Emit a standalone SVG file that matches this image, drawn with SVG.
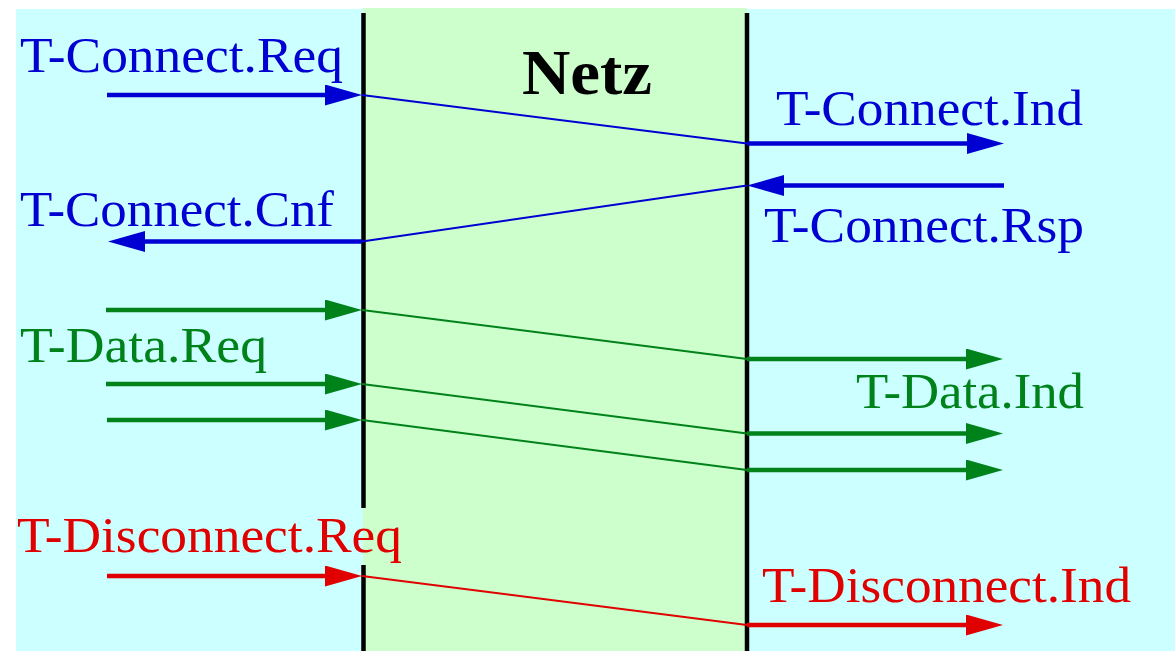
<svg xmlns="http://www.w3.org/2000/svg" width="1175" height="651" viewBox="0 0 1175 651">
  <style>
    .lbl { font-family: "Liberation Serif", "Times New Roman", serif; font-size: 51px; }
    .blue { fill: #0000d2; }
    .green { fill: #00821a; }
    .red { fill: #e00000; }
    .thick { stroke-width: 4.5; fill: none; }
    .thin { stroke-width: 2; fill: none; }
    .sb { stroke: #0000d2; }
    .sg { stroke: #00821a; }
    .sr { stroke: #e00000; }
    .wall { stroke: #000; stroke-width: 4.5; }
  </style>
  <defs>
    <marker id="headBlue" markerUnits="userSpaceOnUse" markerWidth="38" markerHeight="22" refX="7" refY="10.5" orient="auto">
      <path d="M0,0 L37,10.5 L0,21 z" fill="#0000d2"/>
    </marker>
    <marker id="headGreen" markerUnits="userSpaceOnUse" markerWidth="38" markerHeight="22" refX="7" refY="10.5" orient="auto">
      <path d="M0,0 L37,10.5 L0,21 z" fill="#00821a"/>
    </marker>
    <marker id="headRed" markerUnits="userSpaceOnUse" markerWidth="38" markerHeight="22" refX="7" refY="10.5" orient="auto">
      <path d="M0,0 L37,10.5 L0,21 z" fill="#e00000"/>
    </marker>
  </defs>

  <!-- end systems (outer) and network (middle) -->
  <rect id="endsystems" x="16" y="9" width="1159" height="642" fill="#ccffff"/>
  <g id="netz">
    <rect x="363" y="8" width="384" height="643" fill="#ccffcc"/>
    <text x="522" y="94" font-family="'Liberation Serif', 'Times New Roman', serif" font-weight="bold" font-size="63" textLength="130" lengthAdjust="spacingAndGlyphs">Netz</text>
  </g>

  <!-- service access boundaries -->
  <g id="boundaries">
    <line class="wall" x1="363.5" y1="13" x2="363.5" y2="508"/>
    <line class="wall" x1="363.5" y1="565" x2="363.5" y2="651"/>
    <line class="wall" x1="747" y1="13" x2="747" y2="651"/>
  </g>

  <g id="connectors">
    <!-- connect -->
    <line class="thick sb" x1="107" y1="95" x2="332" y2="95" marker-end="url(#headBlue)"/>
    <line class="thin sb" x1="362" y1="95" x2="747" y2="143.5"/>
    <line class="thick sb" x1="747" y1="143.5" x2="974" y2="143.5" marker-end="url(#headBlue)"/>
    <line class="thick sb" x1="1004" y1="185.5" x2="777" y2="185.5" marker-end="url(#headBlue)"/>
    <line class="thin sb" x1="747" y1="185.5" x2="362" y2="241.5"/>
    <line class="thick sb" x1="362" y1="241.5" x2="138" y2="241.5" marker-end="url(#headBlue)"/>
    <!-- data -->
    <line class="thick sg" x1="106" y1="310" x2="332" y2="310" marker-end="url(#headGreen)"/>
    <line class="thin sg" x1="362" y1="310" x2="747" y2="359"/>
    <line class="thick sg" x1="747" y1="359" x2="973" y2="359" marker-end="url(#headGreen)"/>
    <line class="thick sg" x1="106" y1="384" x2="332" y2="384" marker-end="url(#headGreen)"/>
    <line class="thin sg" x1="362" y1="384" x2="747" y2="433.5"/>
    <line class="thick sg" x1="747" y1="433.5" x2="973" y2="433.5" marker-end="url(#headGreen)"/>
    <line class="thick sg" x1="107" y1="420" x2="332" y2="420" marker-end="url(#headGreen)"/>
    <line class="thin sg" x1="362" y1="420" x2="747" y2="470"/>
    <line class="thick sg" x1="747" y1="470" x2="973" y2="470" marker-end="url(#headGreen)"/>
    <!-- disconnect -->
    <line class="thick sr" x1="107" y1="576" x2="332" y2="576" marker-end="url(#headRed)"/>
    <line class="thin sr" x1="362" y1="576" x2="747" y2="625"/>
    <line class="thick sr" x1="747" y1="625" x2="973" y2="625" marker-end="url(#headRed)"/>
  </g>

  <g id="connect-req"><text class="lbl blue" x="20" y="72" textLength="323" lengthAdjust="spacingAndGlyphs">T-Connect.Req</text></g>
  <g id="connect-ind"><text class="lbl blue" x="776" y="125" textLength="307" lengthAdjust="spacingAndGlyphs">T-Connect.Ind</text></g>
  <g id="connect-cnf"><text class="lbl blue" x="20" y="226" textLength="314" lengthAdjust="spacingAndGlyphs">T-Connect.Cnf</text></g>
  <g id="connect-rsp"><text class="lbl blue" x="764" y="242" textLength="320" lengthAdjust="spacingAndGlyphs">T-Connect.Rsp</text></g>
  <g id="data-req"><text class="lbl green" x="20" y="362" textLength="247" lengthAdjust="spacingAndGlyphs">T-Data.Req</text></g>
  <g id="data-ind"><text class="lbl green" x="856" y="408" textLength="228" lengthAdjust="spacingAndGlyphs">T-Data.Ind</text></g>
  <g id="disconnect-req"><text class="lbl red" x="17" y="552" textLength="385" lengthAdjust="spacingAndGlyphs">T-Disconnect.Req</text></g>
  <g id="disconnect-ind"><text class="lbl red" x="762" y="602" textLength="369" lengthAdjust="spacingAndGlyphs">T-Disconnect.Ind</text></g>
</svg>
